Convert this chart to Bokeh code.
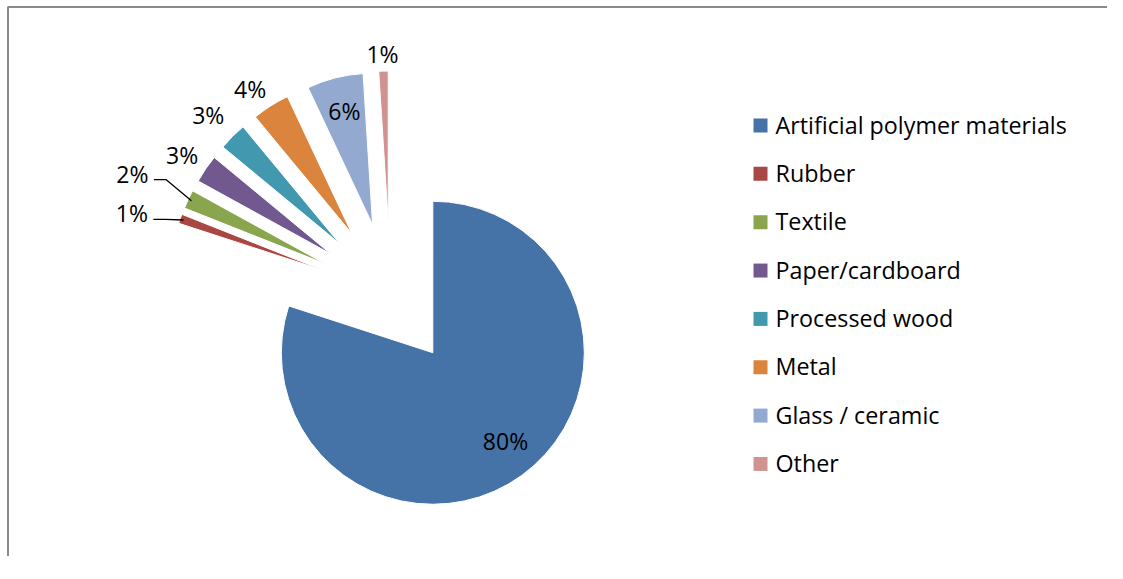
import numpy as np
from bokeh.plotting import figure
from bokeh.models import ColumnDataSource, Range1d
from bokeh.core.properties import value
from bokeh.embed import file_html
from bokeh.resources import INLINE

# ---------------- data ----------------
categories = ["Artificial polymer materials", "Rubber", "Textile", "Paper/cardboard",
              "Processed wood", "Metal", "Glass / ceramic", "Other"]
shares = [80, 1, 2, 3, 3, 4, 6, 1]
labels = ["80%", "1%", "2%", "3%", "3%", "4%", "6%", "1%"]
colors = ["#4572A7", "#AA4643", "#89A54E", "#71588F", "#4198AF", "#DB843D", "#93A9CF", "#D19392"]

# ---------------- layout / style (pixels of the picture) ----------------
W, H = 1107, 556


def sy(screen_y):
    return H - np.asarray(screen_y, dtype=float)


CX, CY = 390.0, 294.0      # pie centre
R = 151.5                   # radius
EXPLODE = 72.0              # explosion offset of every slice
FONT = value("Open Sans")
FS = "23px"
# label placement (distance from pie centre, nudge from mid-angle in degrees)
label_dist = [186.0, 271.0, 285.0, 251.0, 256.0, 249.0, 189.0, 241.0]
label_nudge = [-2.2, -2.4, -0.1, -0.3, -0.4, -1.9, 0.3, -0.1]
leader_for = [1, 2]          # labels with leader lines

p = figure(width=W, height=H, x_range=Range1d(0, W), y_range=Range1d(0, H),
           output_backend="svg", toolbar_location=None, x_axis_type=None, y_axis_type=None,
           min_border=0, outline_line_color=None, background_fill_color="white",
           border_fill_color="white")
p.xgrid.visible = False
p.ygrid.visible = False

# chart border (top & left visible)
p.line(x=[7.5, 7.5, W], y=[-20, float(sy(6.5)), float(sy(6.5))],
       line_color="#8a8a8a", line_width=2)

vals = np.array(shares, dtype=float)
cum = np.concatenate([[0.0], np.cumsum(vals)]) / vals.sum() * 2 * np.pi
t0, t1 = cum[:-1], cum[1:]
mid = (t0 + t1) / 2
dx, dy = np.sin(mid), np.cos(mid)

wx = CX + EXPLODE * dx
wy = sy(CY) + EXPLODE * dy
src = ColumnDataSource(dict(x=wx, y=wy, start=np.pi / 2 - t1, end=np.pi / 2 - t0,
                            color=colors, cat=categories))
p.wedge(x="x", y="y", radius=R, start_angle="start", end_angle="end", direction="anticlock",
        fill_color="color", line_color="white", line_width=1, source=src)

# ---------------- data labels ----------------
ang = mid + np.deg2rad(label_nudge)
lx = CX + np.array(label_dist) * np.sin(ang)
ly = sy(CY) + np.array(label_dist) * np.cos(ang)

leaders_x, leaders_y = [], []
for i in leader_for:
    sxs = lx[i] + 21.5
    sys_ = ly[i] - 6
    ex = CX + 220 * dx[i]
    ey = sy(CY) + 220 * dy[i]
    leaders_x.append([sxs, sxs + 12, ex])
    leaders_y.append([sys_, sys_, ey])

p.multi_line(xs=leaders_x, ys=leaders_y, line_color="black", line_width=1.3)
p.text(x=lx, y=ly, text=labels, text_font=FONT, text_font_size=FS, text_color="black",
       text_align="center", text_baseline="middle")

# ---------------- legend ----------------
row0, pitch = 125.0, 48.35
rows = row0 + pitch * np.arange(len(categories))
p.scatter(x=[760] * len(categories), y=sy(rows), marker="square", size=14,
          fill_color=colors, line_color=None)
p.text(x=[775] * len(categories), y=sy(rows - 1), text=categories, text_font=FONT,
       text_font_size="23.3px", text_color="black", text_align="left", text_baseline="middle")

open("out.html", "w").write(file_html(p, INLINE))
